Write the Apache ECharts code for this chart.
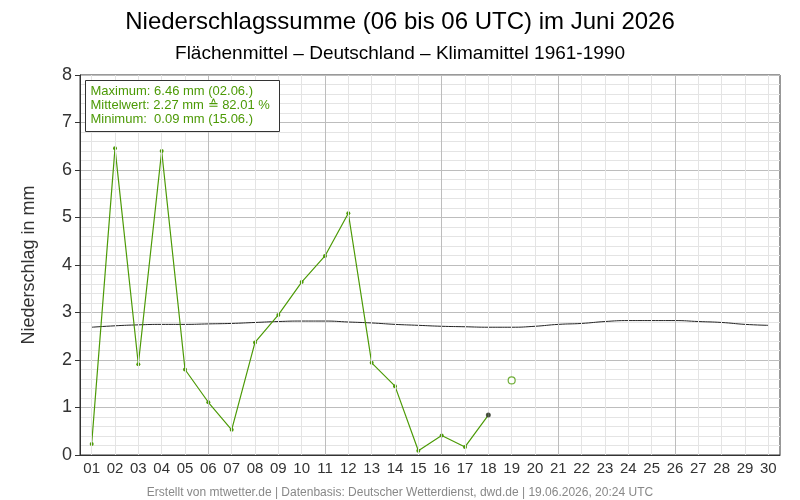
<!DOCTYPE html>
<html>
<head>
<meta charset="utf-8">
<script src="https://cdn.jsdelivr.net/npm/echarts@6/dist/echarts.min.js"></script>
<style>
  html, body { margin: 0; padding: 0; background: #fff; }
  #chart { width: 800px; height: 500px; }
</style>
</head>
<body>
<div id="chart"></div>
<script>
const days = ["01","02","03","04","05","06","07","08","09","10","11","12","13","14","15",
  "16","17","18","19","20","21","22","23","24","25","26","27","28","29","30"];
const rain = [0.23, 6.46, 1.91, 6.40, 1.80, 1.11, 0.53, 2.37, 2.95, 3.64, 4.19, 5.09, 1.94, 1.45, 0.09,
  0.41, 0.17, 0.84];
const latest = [null, null, null, null, null, null, null, null, null, null, null, null, null, null, null,
  null, null, 0.84];
const forecast = [null, null, null, null, null, null, null, null, null, null, null, null, null, null, null,
  null, null, null, 1.57];
const climate = [2.69, 2.72, 2.74, 2.75, 2.75, 2.76, 2.77, 2.79, 2.81, 2.82, 2.82, 2.80, 2.78, 2.75, 2.73,
  2.71, 2.70, 2.69, 2.69, 2.71, 2.75, 2.77, 2.81, 2.83, 2.83, 2.83, 2.81, 2.79, 2.75, 2.73];
const yTicks = [0, 1, 2, 3, 4, 5, 6, 7, 8];
const majorDays = ["06", "11", "16", "21", "26"];
const statsLines = [
  "Maximum: 6.46 mm (02.06.)",
  "Mittelwert: 2.27 mm \u2259 82.01 %",
  "Minimum:  0.09 mm (15.06.)"
];

const green = "#4c9a06";
const font = "Liberation Sans, Arial, sans-serif";

// einzelne Punkte als [Tag, Wert]
const toPairs = arr => arr.map((v, i) => (v == null ? null : [days[i], v])).filter(p => p);

const chart = echarts.init(document.getElementById("chart"));

const vLines = days.map(d => ({
  xAxis: d,
  lineStyle: { color: majorDays.includes(d) ? "#bdbdbd" : "#e4e4e4", width: 1, type: "solid" }
}));

chart.setOption({
  animation: false,
  textStyle: { fontFamily: font },
  title: [
    { text: "Niederschlagssumme (06 bis 06 UTC) im Juni 2026", left: "center", top: 5,
      textStyle: { fontSize: 24, fontWeight: "normal", color: "#000", fontFamily: font } },
    { text: "Flächenmittel \u2013 Deutschland \u2013 Klimamittel 1961-1990", left: "center", top: 39,
      textStyle: { fontSize: 19, fontWeight: "normal", color: "#000", fontFamily: font } },
    { text: "Erstellt von mtwetter.de | Datenbasis: Deutscher Wetterdienst, dwd.de | 19.06.2026, 20:24 UTC",
      left: "center", top: 482,
      textStyle: { fontSize: 12, fontWeight: "normal", color: "#888", fontFamily: font } }
  ],
  grid: { left: 80, right: 20, top: 75, bottom: 45, show: true, borderColor: "#333", borderWidth: 1, containLabel: false },
  xAxis: {
    type: "category",
    data: days,
    boundaryGap: true,
    axisLine: { lineStyle: { color: "#333" } },
    axisTick: { show: false },
    axisLabel: { fontSize: 15, color: "#333", margin: 6 },
    splitLine: { show: false }
  },
  yAxis: {
    type: "value",
    min: yTicks[0],
    max: yTicks[yTicks.length - 1],
    interval: 1,
    name: "Niederschlag in mm",
    nameLocation: "middle",
    nameGap: 42,
    nameTextStyle: { fontSize: 18, color: "#333" },
    axisLine: { show: true, lineStyle: { color: "#333" } },
    axisTick: { show: true, length: 5, lineStyle: { color: "#333" } },
    axisLabel: { fontSize: 18, color: "#333", margin: 8 },
    splitLine: { lineStyle: { color: "#bdbdbd", width: 1 } },
    minorTick: { show: false, splitNumber: 5 },
    minorSplitLine: { show: true, lineStyle: { color: "#e4e4e4", width: 1 } }
  },
  series: [
    {
      type: "line", data: [], z: 1, silent: true,
      markLine: { symbol: "none", silent: true, label: { show: false }, animation: false, data: vLines }
    },
    {
      name: "Klimamittel", type: "line", data: climate, smooth: true, showSymbol: false, z: 2,
      lineStyle: { color: "#222", width: 1 }
    },
    {
      name: "Niederschlag", type: "line", data: rain, z: 3,
      symbol: "circle", symbolSize: 4, showSymbol: true, showAllSymbol: true,
      itemStyle: { color: green }, lineStyle: { color: green, width: 1.2 }
    },
    {
      name: "Aktuell", type: "scatter", data: toPairs(latest), z: 5,
      symbol: "circle", symbolSize: 5, itemStyle: { color: "#3a3a3a" }
    },
    {
      name: "Vorläufig", type: "scatter", data: toPairs(forecast), z: 5,
      symbol: "circle", symbolSize: 7,
      itemStyle: { color: "#fff", borderColor: green, borderWidth: 1.2 }
    }
  ],
  graphic: [{
    type: "group", left: 85, top: 80, z: 100,
    children: [
      { type: "rect", z: 100, shape: { x: 0, y: 0, width: 194, height: 51 },
        style: { fill: "#fff", stroke: "#333", lineWidth: 1 } }
    ].concat(statsLines.map((t, i) => ({
      type: "text", z: 101, x: 5, y: 4 + i * 14,
      style: { text: t, fill: green, fontSize: 13, fontFamily: font }
    })))
  }]
});
</script>
</body>
</html>
